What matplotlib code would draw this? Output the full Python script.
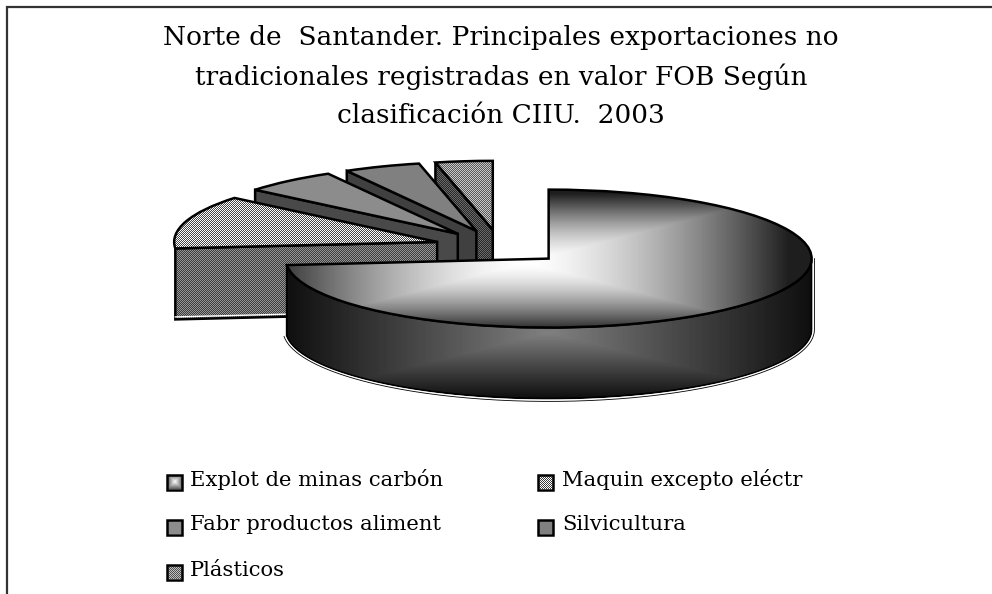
import numpy as np
import matplotlib
matplotlib.use('Agg')
import matplotlib.pyplot as plt
from matplotlib.patches import Polygon, Rectangle

title = 'Norte de  Santander. Principales exportaciones no\ntradicionales registradas en valor FOB Según\nclasificación CIIU.  2003'
labels = ['Explot de minas carbón', 'Maquin excepto eléctr', 'Fabr productos aliment', 'Silvicultura', 'Plásticos']
values = [73.5, 12.5, 5.8, 4.7, 3.5]

W, H = 992, 594
# pie geometry in pixels
cx, cy, rx, ry = 500, 247, 263, 69
depth = 71 / ry
explode = [0.25] * 5

plt.rcParams['font.family'] = ['DejaVu Serif']
fig = plt.figure(figsize=(W / 100, H / 100), dpi=100)
ax = fig.add_axes([0, 0, 1, 1])

wedges, _ = ax.pie(values, explode=explode, startangle=90, counterclock=False, radius=1,
                   wedgeprops=dict(edgecolor='black', linewidth=1.8))
ax.set_aspect('auto')
xlim = (-cx / rx, (W - cx) / rx)
ylim = (-(H - cy) / ry, cy / ry)
extent = [xlim[0], xlim[1], ylim[0], ylim[1]]

yy, xx = np.mgrid[0:H, 0:W]
checker = (xx + yy) % 2


def dither(a, b):
    return np.where(checker == 0, a, b)


def box_gradient(x0, x1, y0, y1, xc, yc, light, dark, power=1.0):
    t = np.maximum(np.abs(xx - xc) / (x1 - x0) * 2, np.abs(yy - yc) / (y1 - y0) * 2)
    t = np.clip(t, 0, 1) ** power
    return light * (1 - t) + dark * t


def paint(axis, ext, arr, clip, z):
    im = axis.imshow(arr, extent=ext, cmap='gray', vmin=0, vmax=255, aspect='auto',
                     interpolation='nearest', zorder=z)
    im.set_clip_path(clip)


# top face / cut wall shades by slice
top_shade = {1: dither(255, 70), 2: dither(140, 140), 3: dither(128, 128), 4: dither(200, 90)}
wall_shade = {1: dither(150, 60), 2: dither(74, 74), 3: dither(64, 64), 4: dither(105, 40)}

z = 2
for i in [4, 3, 2, 1]:
    w = wedges[i]
    c = np.array(w.center)
    th = np.radians(w.theta2)
    rim = c + np.array([np.cos(th), np.sin(th)])
    pts = [c, rim, rim - [0, depth], c - [0, depth]]
    wall = Polygon(pts, closed=True, facecolor='none', edgecolor='black', linewidth=1.8, zorder=z + 1.5)
    ax.add_patch(wall)
    paint(ax, extent, wall_shade[i], wall, z + 1)
    if i == 1:
        # light line along the foot of the cut wall
        foot = np.array([rim - [0, depth - 2.5 / ry], c - [0, depth - 2.5 / ry]])
        ax.plot(foot[:, 0], foot[:, 1], color='white', lw=1.0, zorder=z + 1.7)
    w.set_facecolor('none')
    w.set_zorder(z + 3)
    paint(ax, extent, top_shade[i], w, z + 2)
    z += 4

# large slice: rim wall then top
w = wedges[0]
c = np.array(w.center)
start = w.theta1 if w.theta1 < 0 else w.theta1 - 360
th = np.radians(np.linspace(start, 0, 160))
upper = np.column_stack([c[0] + np.cos(th), c[1] + np.sin(th)])
lower = upper - [0, depth]
wall = Polygon(np.vstack([upper, lower[::-1]]), closed=True, facecolor='none', edgecolor='black',
               linewidth=1.4, zorder=z + 2)
ax.add_patch(wall)
paint(ax, extent, box_gradient(284, 812, 266, 398, 548, 332, 128, 14), wall, z + 1)


def outline(px, color, lw):
    # line round the outside of the wall, px pixels off the rim
    xs = lower[:, 0] + px / rx * np.cos(th)
    ys = lower[:, 1] + px / ry * np.sin(th)
    xs = np.append(xs, xs[-1])
    ys = np.append(ys, upper[-1, 1])
    ax.plot(xs, ys, color=color, lw=lw, zorder=z + 3)


outline(1.6, 'white', 1.0)
outline(2.8, 'black', 0.6)
w.set_facecolor('none')
w.set_zorder(z + 5)
paint(ax, extent, box_gradient(284, 812, 190, 328, 525, 262, 255, 30, 1.5), w, z + 4)

ax.set_xlim(xlim)
ax.set_ylim(ylim)
ax.axis('off')

# overlay in pixel coordinates for frame, title and legend
ov = fig.add_axes([0, 0, 1, 1])
ov.patch.set_alpha(0)
ov_ext = [0, W, H, 0]

ov.plot([6.5, 6.5, W], [H, 6.5, 6.5], color='#333333', lw=1.6, solid_joinstyle='miter')

ov.text(501, 76.5, title, ha='center', va='center', fontsize=19.0, linespacing=1.62, color='black')

rows = [480, 525, 570]
marker_x = [167, 538]
text_x = [190, 562]
legend_pos = [(0, 0), (1, 0), (0, 1), (1, 1), (0, 2)]
shades = [None, dither(255, 60), dither(140, 140), dither(128, 128), dither(190, 80)]
for lab, (col, row), shade in zip(labels, legend_pos, shades):
    mx, my = marker_x[col], rows[row] + 2
    box = Rectangle((mx, my - 7.5), 15, 15, facecolor='none', edgecolor='black', linewidth=1.8, zorder=4)
    ov.add_patch(box)
    if shade is None:
        shade = box_gradient(mx, mx + 15, my - 7.5, my + 7.5, mx + 7.5, my, 255, 90)
    paint(ov, ov_ext, shade, box, 3)
    ov.text(text_x[col], rows[row], lab, ha='left', va='center', fontsize=15.2, color='black')

ov.set_xlim(0, W)
ov.set_ylim(H, 0)
ov.axis('off')

fig.savefig('out.png', dpi=100)
